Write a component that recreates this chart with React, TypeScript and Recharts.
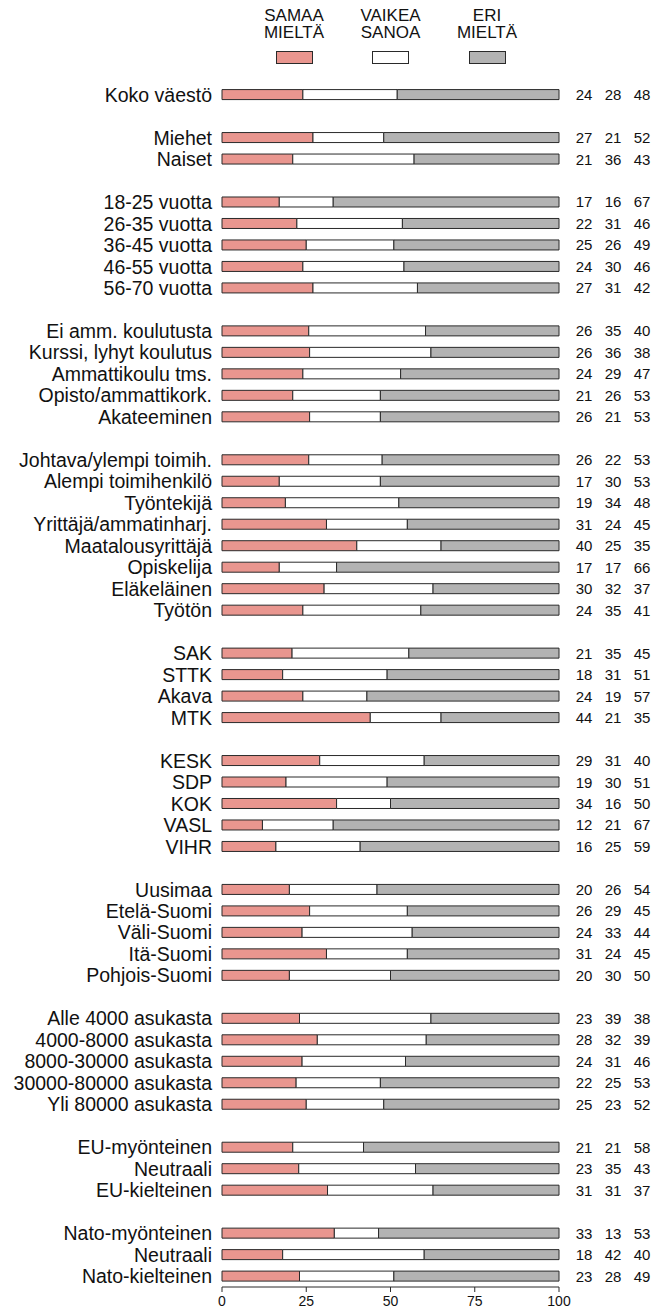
import { Bar, BarChart, LabelList, Legend, XAxis, YAxis } from 'recharts';

// '' = empty spacer row between groups
const categories = [
  'Koko väestö', '',
  'Miehet', 'Naiset', '',
  '18-25 vuotta', '26-35 vuotta', '36-45 vuotta', '46-55 vuotta', '56-70 vuotta', '',
  'Ei amm. koulutusta', 'Kurssi, lyhyt koulutus', 'Ammattikoulu tms.', 'Opisto/ammattikork.', 'Akateeminen', '',
  'Johtava/ylempi toimih.', 'Alempi toimihenkilö', 'Työntekijä', 'Yrittäjä/ammatinharj.', 'Maatalousyrittäjä', 'Opiskelija', 'Eläkeläinen', 'Työtön', '',
  'SAK', 'STTK', 'Akava', 'MTK', '',
  'KESK', 'SDP', 'KOK', 'VASL', 'VIHR', '',
  'Uusimaa', 'Etelä-Suomi', 'Väli-Suomi', 'Itä-Suomi', 'Pohjois-Suomi', '',
  'Alle 4000 asukasta', '4000-8000 asukasta', '8000-30000 asukasta', '30000-80000 asukasta', 'Yli 80000 asukasta', '',
  'EU-myönteinen', 'Neutraali', 'EU-kielteinen', '',
  'Nato-myönteinen', 'Neutraali', 'Nato-kielteinen',
];

const samaa = [
  24, null,
  27, 21, null,
  17, 22, 25, 24, 27, null,
  26, 26, 24, 21, 26, null,
  26, 17, 19, 31, 40, 17, 30, 24, null,
  21, 18, 24, 44, null,
  29, 19, 34, 12, 16, null,
  20, 26, 24, 31, 20, null,
  23, 28, 24, 22, 25, null,
  21, 23, 31, null,
  33, 18, 23,
];

const vaikea = [
  28, null,
  21, 36, null,
  16, 31, 26, 30, 31, null,
  35, 36, 29, 26, 21, null,
  22, 30, 34, 24, 25, 17, 32, 35, null,
  35, 31, 19, 21, null,
  31, 30, 16, 21, 25, null,
  26, 29, 33, 24, 30, null,
  39, 32, 31, 25, 23, null,
  21, 35, 31, null,
  13, 42, 28,
];

const eri = [
  48, null,
  52, 43, null,
  67, 46, 49, 46, 42, null,
  40, 38, 47, 53, 53, null,
  53, 53, 48, 45, 35, 66, 37, 41, null,
  45, 51, 57, 35, null,
  40, 51, 50, 67, 59, null,
  54, 45, 44, 45, 50, null,
  38, 39, 46, 53, 52, null,
  58, 43, 37, null,
  53, 40, 49,
];

const seriesNames = ['SAMAA MIELTÄ', 'VAIKEA SANOA', 'ERI MIELTÄ'];
const seriesColors = ['#E9968F', '#FFFFFF', '#B3B3B3'];
const xTicks = [0, 25, 50, 75, 100];

const data = categories.map((label, i) => ({
  label,
  samaa: samaa[i],
  vaikea: vaikea[i],
  eri: eri[i],
}));

const FONT = '"Liberation Sans", Arial, Helvetica, sans-serif';
const NARROW = '"Liberation Sans Narrow", "Arial Narrow", "Liberation Sans", sans-serif';
const STROKE = '#2a2a2a';
const LEGEND_X = [294, 390.5, 487];

function TopLegend() {
  return (
    <div style={{ position: 'relative', width: 657, height: 70 }}>
      {seriesNames.map((name, i) => {
        const [l1, l2] = name.split(' ');
        return (
          <div key={name}>
            <div
              style={{
                position: 'absolute',
                left: LEGEND_X[i] - 50,
                top: 7,
                width: 100,
                textAlign: 'center',
                fontFamily: NARROW,
                fontSize: 17,
                lineHeight: '17px',
                color: '#111',
              }}
            >
              {l1}
              <br />
              {l2}
            </div>
            <div
              style={{
                position: 'absolute',
                left: LEGEND_X[i] - 18.5,
                top: 51,
                width: 35,
                height: 11,
                background: seriesColors[i],
                border: `1px solid ${STROKE}`,
              }}
            />
          </div>
        );
      })}
    </div>
  );
}

const rowText = (d: any) => (d.samaa == null ? '' : `${d.samaa} ${d.vaikea} ${d.eri}`);

function RowNumbers(props: any) {
  const { x, y, width, height, value } = props;
  if (!value) return null;
  const right = Number(x) + Number(width);
  const cy = Number(y) + Number(height) / 2;
  const vals = String(value).split(' ');
  return (
    <g>
      {vals.map((v, k) => (
        <text
          key={k}
          x={right + 25 + k * 29}
          y={cy}
          textAnchor="middle"
          dominantBaseline="central"
          fontFamily={FONT}
          fontSize={15}
          fill="#111"
        >
          {v}
        </text>
      ))}
    </g>
  );
}

export default function App() {
  return (
    <div style={{ position: 'absolute', left: 0, top: 0, background: '#fff' }}>
      <BarChart
        width={657}
        height={1313}
        data={data}
        layout="vertical"
        stackOffset="expand"
        barCategoryGap="26%"
        margin={{ top: 84, right: 98, bottom: 2, left: 0 }}
      >
        <XAxis
          type="number"
          domain={[0, 1]}
          ticks={xTicks.map((t) => t / 100)}
          tickFormatter={(v: number) => String(Math.round(v * 100))}
          tick={{ fontSize: 14, fill: '#111', fontFamily: FONT }}
          axisLine={{ stroke: STROKE }}
          tickLine={{ stroke: STROKE }}
          tickSize={5}
          tickMargin={4}
          height={24}
        />
        <YAxis
          type="category"
          dataKey="label"
          width={222}
          interval={0}
          axisLine={false}
          tickLine={false}
          tickSize={0}
          tickMargin={10}
          tick={{ fontSize: 19.5, fill: '#111', fontFamily: FONT }}
        />
        <Legend
          verticalAlign="middle"
          align="center"
          layout="horizontal"
          wrapperStyle={{ top: 0, left: 0, width: 657, height: 70 }}
          content={<TopLegend />}
        />
        <Bar dataKey="samaa" name={seriesNames[0]} stackId="a" fill={seriesColors[0]} stroke={STROKE} strokeWidth={1} isAnimationActive={false} />
        <Bar dataKey="vaikea" name={seriesNames[1]} stackId="a" fill={seriesColors[1]} stroke={STROKE} strokeWidth={1} isAnimationActive={false} />
        <Bar dataKey="eri" name={seriesNames[2]} stackId="a" fill={seriesColors[2]} stroke={STROKE} strokeWidth={1} isAnimationActive={false}>
          <LabelList dataKey={rowText} content={<RowNumbers />} />
        </Bar>
      </BarChart>
    </div>
  );
}
